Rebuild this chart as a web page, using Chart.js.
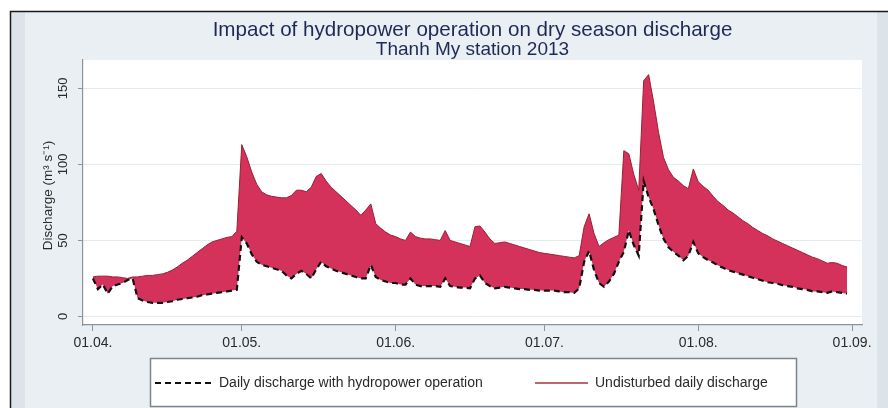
<!DOCTYPE html>
<html>
<head>
<meta charset="utf-8">
<script src="https://cdn.jsdelivr.net/npm/chart.js@4.4.0/dist/chart.umd.min.js"></script>
<style>
  html, body { margin: 0; padding: 0; background: #ffffff; }
  #wrap { width: 888px; height: 408px; }
</style>
</head>
<body>
<div id="wrap"><canvas id="c" width="888" height="408"></canvas></div>
<script>
// ---- Data (day index 0 = 01.04.2013, one value per day until 31.08.) ----
const titleLines = ["Impact of hydropower operation on dry season discharge", "Thanh My station 2013"];
const yAxisTitle = "Discharge (m\u00B3 s\u207B\u00B9)";
const legendLabels = ["Daily discharge with hydropower operation", "Undisturbed daily discharge"];

const tickDays = [0, 30, 61, 91, 122, 153];
const tickLabels = ["01.04.", "01.05.", "01.06.", "01.07.", "01.08.", "01.09."];
const yTicks = [0, 50, 100, 150];

const undisturbed = [
  // April
  26, 26.5, 26.5, 26.5, 26, 26, 25.5, 25, 26, 26, 26.5, 27, 27, 27.5, 28, 29, 30.5, 32.5, 35, 37,
  39.5, 42, 44.5, 47, 49, 50, 51, 52, 52.5, 56,
  // May
  113, 105, 95, 87, 82, 80, 79, 78.5, 78, 78, 79.5, 83, 83, 82, 85, 92, 94, 89, 85, 82,
  79, 76, 73, 70, 66.5, 70, 74, 61, 58, 55.5, 53.5,
  // June
  52.5, 51, 50, 55.5, 52.5, 51.5, 51, 51, 50.5, 50, 56.5, 50, 49, 48, 47, 46, 59, 59.5, 55.5, 51,
  48, 48.5, 49, 48, 47, 46, 45, 44, 43, 42,
  // July
  41.5, 41, 40.5, 40, 39.5, 39, 38.5, 40, 59, 67.5, 54.5, 46, 48.5, 50.5, 52, 53.5, 109, 107, 93.5, 83,
  155, 159, 141, 121, 104.5, 96.5, 91.5, 89, 86, 84, 97,
  // August
  88.5, 85.5, 83, 79, 75.5, 73, 70, 68, 65.5, 63, 61, 58.5, 56.5, 54.5, 53, 51, 49.5, 48, 46.5, 45,
  43.5, 42, 40.5, 39, 38, 36.5, 35, 35.5, 35, 33.5, 32.5
];

const withHydropower = [
  // April
  25, 18, 21, 15, 20, 21, 22, 24, 25, 12, 10.5, 9.5, 9, 9, 9, 9.5, 10, 11, 11.5, 12,
  12.5, 13, 14, 14.5, 15, 15.5, 16, 16.5, 17, 17.5,
  // May
  52, 48, 41, 36, 34, 33, 32, 31, 30, 27, 25, 28, 30, 28, 25, 31, 36, 33, 31.5, 30,
  29, 28, 27, 26, 25, 25, 34, 26, 24, 23, 22,
  // June
  22, 21, 21, 25, 21, 20, 20, 20, 20, 19.5, 25, 20, 19.5, 19, 19, 18.5, 25, 27, 22, 20,
  18.5, 19, 19.5, 19, 18.5, 18, 18, 17.5, 17.5, 17,
  // July
  17, 17, 17, 16.5, 16, 16, 15.5, 18.5, 36, 43, 30.5, 22, 19.5, 23, 28, 36, 42.5, 56.5, 47, 40,
  89, 78.5, 70.5, 60, 51, 45.5, 42.5, 40, 37, 40, 49,
  // August
  41.5, 39, 37, 35.5, 33.5, 32, 30.5, 29.5, 28.5, 27.5, 26.5, 25.5, 24.5, 23.5, 22.5, 22, 21.5, 20.5, 20, 19.5,
  18.5, 18, 17.5, 16.5, 16.5, 16, 15.5, 16.5, 16, 15.5, 15
];

// ---- Build points for the library ----
const upperPts = undisturbed.map((v, i) => ({ x: i, y: v }));
const lowerPts = withHydropower.map((v, i) => ({ x: i, y: v }));

const FONT = "'Liberation Sans', Arial, Helvetica, sans-serif";
const FILL = '#d4325a';
const UPPER_LINE = '#9a1f36';
const LEGEND_RED = '#a8333f';
const AXIS = '#8a949c';
const TEXT = '#2a2a2a';
const TITLE = '#1e2a55';

const decor = {
  id: 'decor',
  beforeDraw(chart) {
    const ctx = chart.ctx;
    const a = chart.chartArea;
    ctx.save();
    ctx.fillStyle = '#ffffff';
    ctx.fillRect(0, 0, 888, 408);
    // outer band
    ctx.fillStyle = '#dce4e9';
    ctx.fillRect(11, 12, 877, 396);
    // inner graph region
    ctx.fillStyle = '#e9eff2';
    ctx.fillRect(25, 12, 852, 396);
    // black frame
    ctx.strokeStyle = '#1a1a1a';
    ctx.lineWidth = 1.5;
    ctx.beginPath();
    ctx.moveTo(10.5, 408);
    ctx.lineTo(10.5, 11.5);
    ctx.lineTo(888, 11.5);
    ctx.stroke();
    // plot region
    ctx.fillStyle = '#ffffff';
    ctx.fillRect(a.left, a.top, a.right - a.left, a.bottom - a.top);
    ctx.restore();
  },
  afterDraw(chart) {
    const ctx = chart.ctx;
    const a = chart.chartArea;
    const ys = chart.scales.y;
    ctx.save();
    // title
    ctx.fillStyle = TITLE;
    ctx.textAlign = 'center';
    ctx.textBaseline = 'alphabetic';
    const cx = (a.left + a.right) / 2;
    ctx.font = '20.6px ' + FONT;
    ctx.fillText(titleLines[0], cx, 36);
    ctx.font = '19px ' + FONT;
    ctx.fillText(titleLines[1], cx, 55);

    // y tick labels (rotated)
    ctx.fillStyle = TEXT;
    ctx.font = '13px ' + FONT;
    yTicks.forEach(v => {
      const y = ys.getPixelForValue(v);
      ctx.save();
      ctx.translate(63, y);
      ctx.rotate(-Math.PI / 2);
      ctx.textAlign = 'center';
      ctx.textBaseline = 'middle';
      ctx.fillText(String(v), 0, 0);
      ctx.restore();
    });
    // y axis title
    ctx.save();
    ctx.translate(48, (a.top + a.bottom) / 2 + 3);
    ctx.rotate(-Math.PI / 2);
    ctx.textAlign = 'center';
    ctx.textBaseline = 'middle';
    ctx.font = '13.5px ' + FONT;
    ctx.fillText(yAxisTitle, 0, 0);
    ctx.restore();

    // legend box
    ctx.fillStyle = '#ffffff';
    ctx.fillRect(150.5, 358.5, 646, 48);
    ctx.strokeStyle = '#7d858c';
    ctx.lineWidth = 1.5;
    ctx.strokeRect(150.5, 358.5, 646, 48);
    const ly = 383;
    const ds = chart.data.datasets;
    // dashed sample
    ctx.strokeStyle = ds[1].borderColor;
    ctx.lineWidth = 2.2;
    ctx.setLineDash(ds[1].borderDash);
    ctx.beginPath();
    ctx.moveTo(155, ly);
    ctx.lineTo(211, ly);
    ctx.stroke();
    ctx.setLineDash([]);
    ctx.fillStyle = TEXT;
    ctx.font = '14px ' + FONT;
    ctx.textAlign = 'left';
    ctx.textBaseline = 'middle';
    ctx.fillText(legendLabels[0], 219, ly);
    // red sample
    ctx.strokeStyle = LEGEND_RED;
    ctx.lineWidth = 1.6;
    ctx.beginPath();
    ctx.moveTo(535, ly);
    ctx.lineTo(588, ly);
    ctx.stroke();
    ctx.fillText(legendLabels[1], 595, ly);
    ctx.restore();
  }
};

new Chart(document.getElementById('c'), {
  type: 'line',
  data: {
    datasets: [
      {
        label: legendLabels[1],
        data: upperPts,
        borderColor: UPPER_LINE,
        borderWidth: 1,
        backgroundColor: FILL,
        fill: '+1',
        pointRadius: 0,
        tension: 0,
        order: 1
      },
      {
        label: legendLabels[0],
        data: lowerPts,
        borderColor: '#111111',
        borderWidth: 2.2,
        borderDash: [6, 4],
        fill: false,
        pointRadius: 0,
        tension: 0,
        order: 0
      }
    ]
  },
  options: {
    responsive: false,
    animation: false,
    devicePixelRatio: 1,
    layout: { padding: { left: 73, right: 26, top: 60, bottom: 43 } },
    plugins: {
      legend: { display: false },
      title: { display: false },
      tooltip: { enabled: false }
    },
    scales: {
      x: {
        type: 'linear',
        min: -2.0,
        max: 155.0,
        afterBuildTicks: s => { s.ticks = tickDays.map(v => ({ value: v })); },
        afterFit: s => { s.height = 40; },
        ticks: {
          autoSkip: false,
          maxRotation: 0,
          minRotation: 0,
          padding: 4,
          color: TEXT,
          font: { family: FONT, size: 14 },
          callback: (v, i) => tickLabels[i]
        },
        grid: {
          drawOnChartArea: false,
          drawTicks: true,
          tickLength: 6,
          tickColor: AXIS,
          tickWidth: 1
        },
        border: { display: true, color: AXIS, width: 1.2 }
      },
      y: {
        type: 'linear',
        min: -5.6,
        max: 168.6,
        afterBuildTicks: s => { s.ticks = yTicks.map(v => ({ value: v })); },
        afterFit: s => { s.width = 10; },
        ticks: { display: false },
        grid: {
          color: '#e5ecf0',
          lineWidth: 1,
          drawTicks: true,
          tickLength: 5,
          tickColor: AXIS,
          tickWidth: 1
        },
        border: { display: true, color: AXIS, width: 1.2 }
      }
    }
  },
  plugins: [decor]
});
</script>
</body>
</html>
